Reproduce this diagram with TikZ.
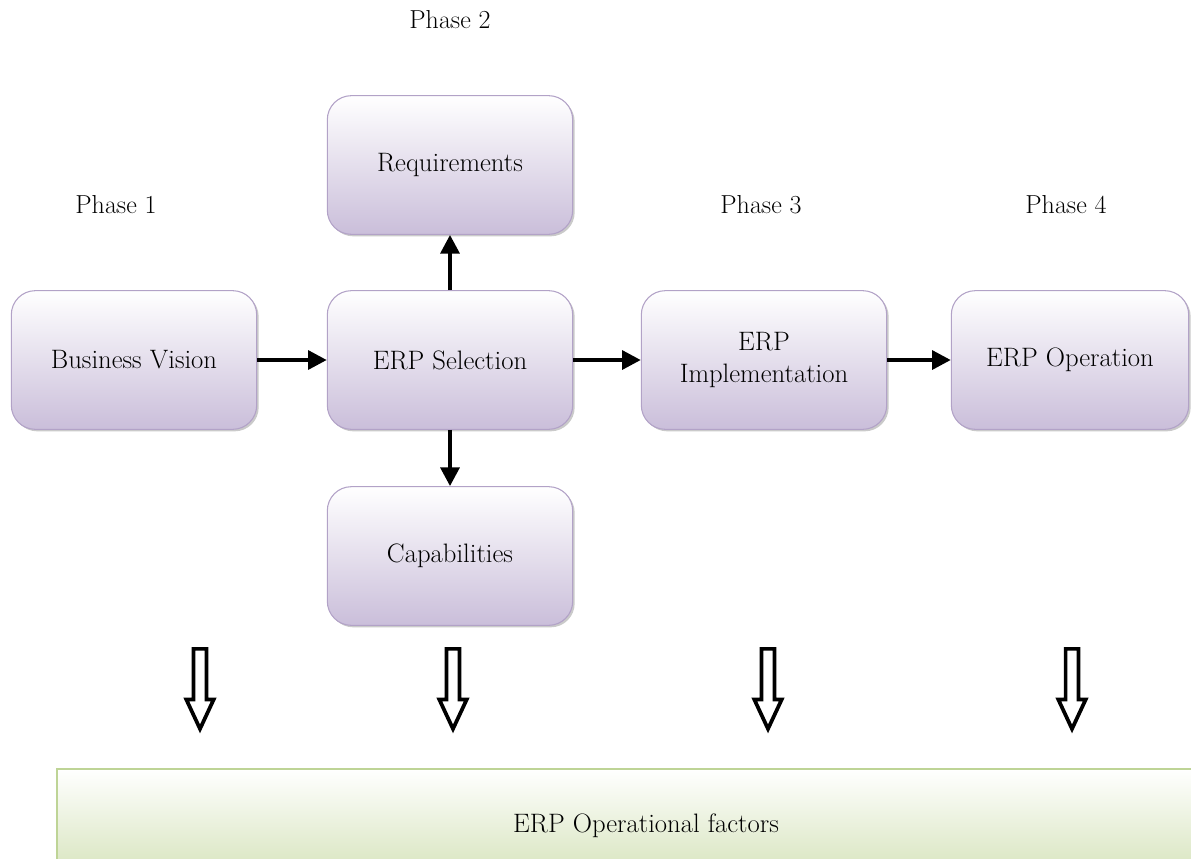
\documentclass[tikz,border=0pt]{standalone}
\usepackage{tikz}
\usetikzlibrary{shapes.arrows,shadows,arrows.meta}
\definecolor{boxline}{RGB}{178,162,199}
\definecolor{boxfill}{RGB}{202,190,218}
\definecolor{barline}{RGB}{190,212,150}
\definecolor{barfill}{RGB}{212,226,184}
\tikzset{
  phasebox/.style={draw=boxline, line width=0.8pt, rounded corners=18pt,
    top color=white, bottom color=boxfill, minimum width=184pt,
    minimum height=104pt, align=center,
    drop shadow={shadow xshift=1.5pt, shadow yshift=-1.5pt, opacity=0.35, fill=black!60}},
  flow/.style={line width=3pt, -{Triangle[length=14pt,width=14pt]}},
  hollow/.style={single arrow, draw=black, line width=2.8pt, fill=white,
    inner sep=3.4pt, single arrow head extend=5.5pt, single arrow tip angle=50,
    minimum height=60pt, shape border rotate=270},
  phase/.style={font=\fontsize{19.5}{23}\selectfont}
}
\begin{document}
\begin{tikzpicture}[x=0.75pt,y=-0.75pt,font=\fontsize{20}{24}\selectfont]
\useasboundingbox (0,0) rectangle (1191,858);

% phase labels
\node[phase] (p1) at (116,205) {Phase 1};
\node[phase] (p2) at (450,20) {Phase 2};
\node[phase] (p3) at (761,205) {Phase 3};
\node[phase] (p4) at (1066,205) {Phase 4};

% boxes
\node[phasebox] (vision) at (134,360) {Business Vision};
\node[phasebox] (select) at (450,360) {ERP Selection};
\node[phasebox] (req) at (450,165) {Requirements};
\node[phasebox] (cap) at (450,556) {Capabilities};
\node[phasebox] (impl) at (764,360) {ERP\\Implementation};
\node[phasebox, minimum width=178pt] (oper) at (1070,360) {ERP Operation};

\draw[flow] (vision) -- (select);
\draw[flow] (select) -- (impl);
\draw[flow] (impl) -- (oper);
\draw[flow] (select) -- (req);
\draw[flow] (select) -- (cap);

% factors bar
\node[draw=barline, line width=1.6pt, top color=white, bottom color=barfill,
  minimum width=884pt, minimum height=86pt] (factors) at (646,826) {ERP Operational factors};

\node[hollow] (d1) at (200,682) {};
\node[hollow] (d2) at (453,682) {};
\node[hollow] (d3) at (768,682) {};
\node[hollow] (d4) at (1072,682) {};

\end{tikzpicture}
\end{document}
